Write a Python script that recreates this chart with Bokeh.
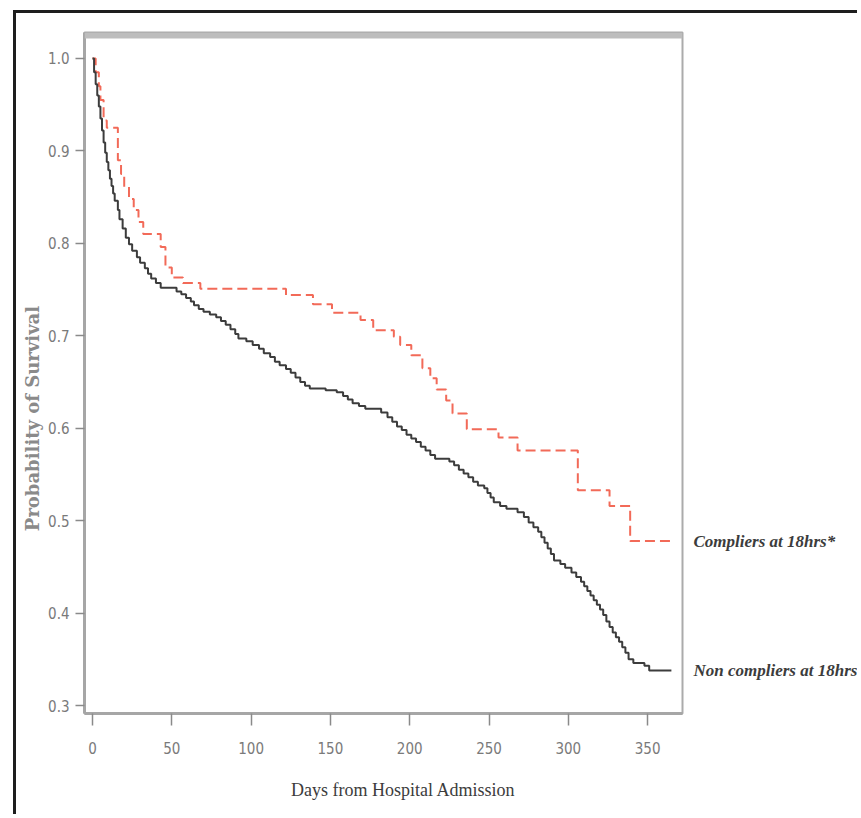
from bokeh.plotting import figure
from bokeh.models import Range1d, FixedTicker, BoxAnnotation, LinearAxis
from bokeh.embed import file_html
from bokeh.resources import INLINE

# ---- data ----
# Non compliers at 18hrs: step events (day, survival after the event)
nc_days = [0, 1, 2, 3, 4, 5, 6, 7, 8, 9, 10, 11, 12, 13, 14, 16, 17, 19, 21, 23,
           25, 28, 30, 33, 35, 37, 40, 43, 53, 56, 59, 62, 64, 67, 70, 74, 78, 81,
           84, 87, 90, 92, 97, 101, 105, 108, 112, 115, 118, 122, 125, 128, 131,
           134, 137, 147, 154, 158, 161, 164, 168, 172, 182, 186, 189, 192, 195,
           198, 201, 204, 207, 210, 213, 216, 225, 228, 231, 234, 237, 240, 243,
           247, 249, 251, 253, 257, 261, 268, 272, 275, 278, 281, 283, 285, 287,
           289, 291, 295, 298, 302, 305, 308, 310, 312, 314, 316, 318, 320, 322,
           324, 326, 328, 330, 332, 334, 336, 338, 341, 348, 351, 365]
nc_surv = [1.0, 0.985, 0.972, 0.960, 0.948, 0.935, 0.922, 0.909, 0.898, 0.888,
           0.879, 0.870, 0.862, 0.854, 0.846, 0.836, 0.826, 0.816, 0.806, 0.799,
           0.792, 0.785, 0.779, 0.773, 0.767, 0.762, 0.757, 0.752, 0.748, 0.745,
           0.741, 0.737, 0.733, 0.729, 0.726, 0.723, 0.720, 0.716, 0.712, 0.707,
           0.702, 0.697, 0.694, 0.690, 0.686, 0.681, 0.677, 0.672, 0.668, 0.664,
           0.660, 0.655, 0.650, 0.646, 0.643, 0.641, 0.639, 0.635, 0.631, 0.627,
           0.624, 0.621, 0.617, 0.612, 0.607, 0.602, 0.598, 0.593, 0.589, 0.585,
           0.580, 0.576, 0.571, 0.567, 0.564, 0.560, 0.555, 0.551, 0.547, 0.542,
           0.538, 0.535, 0.530, 0.525, 0.520, 0.516, 0.513, 0.509, 0.504, 0.498,
           0.493, 0.488, 0.482, 0.476, 0.470, 0.464, 0.457, 0.453, 0.449, 0.444,
           0.439, 0.434, 0.429, 0.424, 0.419, 0.414, 0.409, 0.404, 0.398, 0.391,
           0.385, 0.379, 0.374, 0.369, 0.363, 0.357, 0.350, 0.346, 0.343, 0.338,
           0.338]

# Compliers at 18hrs: step events (day, survival after the event)
c_days = [0, 2, 4, 5, 7, 9, 16, 18, 20, 23, 26, 29, 32, 43, 46, 50, 57, 68, 122,
          139, 151, 169, 177, 190, 194, 201, 208, 213, 217, 223, 227, 236, 256,
          268, 306, 326, 339, 365]
c_surv = [1.0, 0.985, 0.970, 0.955, 0.933, 0.925, 0.890, 0.875, 0.861, 0.848,
          0.836, 0.823, 0.810, 0.796, 0.774, 0.763, 0.757, 0.751, 0.744, 0.734,
          0.725, 0.717, 0.706, 0.699, 0.690, 0.679, 0.665, 0.654, 0.642, 0.630,
          0.616, 0.599, 0.590, 0.576, 0.533, 0.516, 0.478, 0.478]

x_ticks = [0, 50, 100, 150, 200, 250, 300, 350]
y_ticks = [0.3, 0.4, 0.5, 0.6, 0.7, 0.8, 0.9, 1.0]
y_tick_labels = ["0.3", "0.4", "0.5", "0.6", "0.7", "0.8", "0.9", "1.0"]
series_names = ["Compliers at 18hrs*", "Non compliers at 18hrs"]
x_title = "Days from Hospital Admission"
y_title = "Probability of Survival"

# where the axis titles sit along their axes (data units)
x_title_at = 196
y_title_at = 0.6105

# ---- figure ----
p = figure(width=844, height=804, output_backend="svg", toolbar_location=None,
           x_range=Range1d(-5.04, 372.0), y_range=Range1d(0.2914, 1.0281),
           min_border_left=68, min_border_right=177, min_border_top=19,
           min_border_bottom=104)
p.styles = {"margin-left": "13px", "margin-top": "10px",
            "border-left": "3px solid #1e1e1e", "border-top": "3px solid #1e1e1e"}
p.background_fill_color = "white"
p.border_fill_color = "white"
p.grid.visible = False
p.outline_line_color = "#ababab"
p.outline_line_width = 2

# grey band at the top of the plot wall
p.add_layout(BoxAnnotation(bottom=1.0216, fill_color="#bdbdbd", fill_alpha=1.0,
                           line_alpha=0))

tick_font = "'DejaVu Sans Condensed', 'Liberation Sans Narrow', sans-serif"

xa = p.xaxis[0]
xa.ticker = FixedTicker(ticks=x_ticks)
xa.axis_line_color = "#a6a6a6"
xa.axis_line_width = 3
xa.major_tick_line_color = "#8a8a8a"
xa.major_tick_line_width = 1.5
xa.major_tick_out = 12
xa.major_tick_in = 0
xa.minor_tick_line_color = None
xa.major_label_text_font = tick_font
xa.major_label_text_font_size = "15px"
xa.major_label_text_color = "#7a7a7a"
xa.major_label_standoff = 16

ya = p.yaxis[0]
ya.ticker = FixedTicker(ticks=y_ticks)
ya.major_label_overrides = {t: l for t, l in zip(y_ticks, y_tick_labels)}
ya.axis_line_color = "#a6a6a6"
ya.axis_line_width = 3
ya.major_tick_line_color = "#8a8a8a"
ya.major_tick_line_width = 1.5
ya.major_tick_out = 9
ya.major_tick_in = 0
ya.minor_tick_line_color = None
ya.major_label_text_font = tick_font
ya.major_label_text_font_size = "15px"
ya.major_label_text_color = "#7a7a7a"
ya.major_label_standoff = 6

# axis titles as extra, line-less axes (so they can sit off-centre like the original)
xt = LinearAxis(ticker=FixedTicker(ticks=[x_title_at]),
                major_label_overrides={x_title_at: x_title},
                axis_line_color=None, major_tick_line_color=None,
                minor_tick_line_color=None, major_tick_out=0, major_tick_in=0,
                major_label_text_font="Liberation Serif",
                major_label_text_font_size="18px",
                major_label_text_color="#3c3c3c", major_label_standoff=23)
p.add_layout(xt, "below")

yt = LinearAxis(ticker=FixedTicker(ticks=[y_title_at]),
                major_label_overrides={y_title_at: y_title},
                major_label_orientation="vertical",
                axis_line_color=None, major_tick_line_color=None,
                minor_tick_line_color=None, major_tick_out=0, major_tick_in=0,
                major_label_text_font="DejaVu Serif",
                major_label_text_font_style="bold",
                major_label_text_font_size="18px",
                major_label_text_color="#8a8a8a", major_label_standoff=2)
p.add_layout(yt, "left")

# series names at the right end of each curve
end_vals = [c_surv[-1], nc_surv[-1]]
ra = LinearAxis(ticker=FixedTicker(ticks=end_vals),
                major_label_overrides={v: n for v, n in zip(end_vals, series_names)},
                axis_line_color=None, major_tick_line_color=None,
                minor_tick_line_color=None, major_tick_out=0, major_tick_in=0,
                major_label_text_font="Liberation Serif",
                major_label_text_font_style="bold italic",
                major_label_text_font_size="17px",
                major_label_text_color="#3c3c3c", major_label_standoff=11)
p.add_layout(ra, "right")

# ---- curves ----
p.step(c_days, c_surv, mode="after", line_color="#f26a58", line_width=2,
       line_dash="10 5")
p.step(nc_days, nc_surv, mode="after", line_color="#3c3c3c", line_width=2)

open("out.html", "w").write(file_html(p, INLINE))
